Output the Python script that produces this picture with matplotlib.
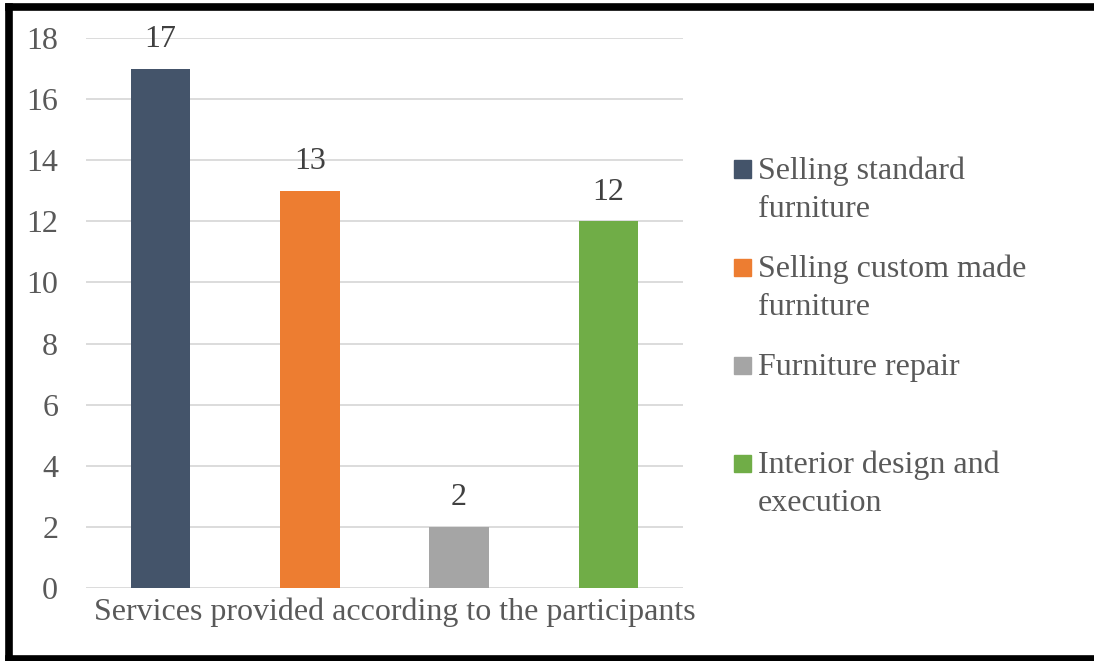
import matplotlib.pyplot as plt
from matplotlib.patches import Rectangle
from matplotlib.lines import Line2D

# data
services = ["Selling standard\nfurniture", "Selling custom made\nfurniture",
            "Furniture repair", "Interior design and\nexecution"]
counts = [17, 13, 2, 12]
colors = ["#44546A", "#ED7D31", "#A5A5A5", "#70AD47"]
category = "Services provided according to the participants"
yticks = list(range(0, 19, 2))

plt.rcParams['font.family'] = ['Liberation Serif', 'DejaVu Serif']
txt_color = "#595959"

fig = plt.figure(figsize=(10.94, 6.61), dpi=100)
ax = fig.add_axes([0.0786, 0.1104, 0.5457, 0.8321])

x = list(range(len(counts)))
bars = ax.bar(x, counts, width=0.40, color=colors, zorder=3)
for b, v in zip(bars, counts):
    ax.annotate(str(v), (b.get_x() + b.get_width() / 2, v), xytext=(0, 21),
                textcoords="offset points", ha="center", va="center",
                fontsize=23, color="#404040")

ax.set_xlim(-0.5, len(counts) - 0.5)
ax.set_ylim(0, 18)
ax.set_yticks(yticks)
ax.tick_params(axis="y", length=0, pad=20, labelsize=23, labelcolor=txt_color)
ax.set_xticks([])
ax.grid(axis="y", color="#D9D9D9", linewidth=1.3, zorder=0)
for s in ax.spines.values():
    s.set_visible(False)
ax.text(0.517, -0.044, category, transform=ax.transAxes, ha="center",
        va="center", fontsize=23, color=txt_color)

# legend, marker lined up with first text line
W, H = 1094, 661
for i, (lab, c) in enumerate(zip(services, colors)):
    yc = 169 + 98 * i
    fig.patches.append(Rectangle((734 / W, (H - yc - 8.5) / H), 17 / W, 17 / H,
                                 transform=fig.transFigure, color=c))
    fig.text(758 / W, (H - yc + 12) / H, lab, ha="left", va="top", fontsize=23,
             color=txt_color, linespacing=1.38)

# frame: top, left and bottom edges
frame = dict(color="black", linewidth=5.5, transform=fig.transFigure)
fig.add_artist(Line2D([9 / W, 1.0], [1 - 6.5 / H] * 2, **frame))
fig.add_artist(Line2D([9 / W] * 2, [2 / H, 1 - 6.5 / H], **frame))
fig.add_artist(Line2D([9 / W, 1.0], [2 / H] * 2, **frame))

fig.savefig("out.png", dpi=100)
